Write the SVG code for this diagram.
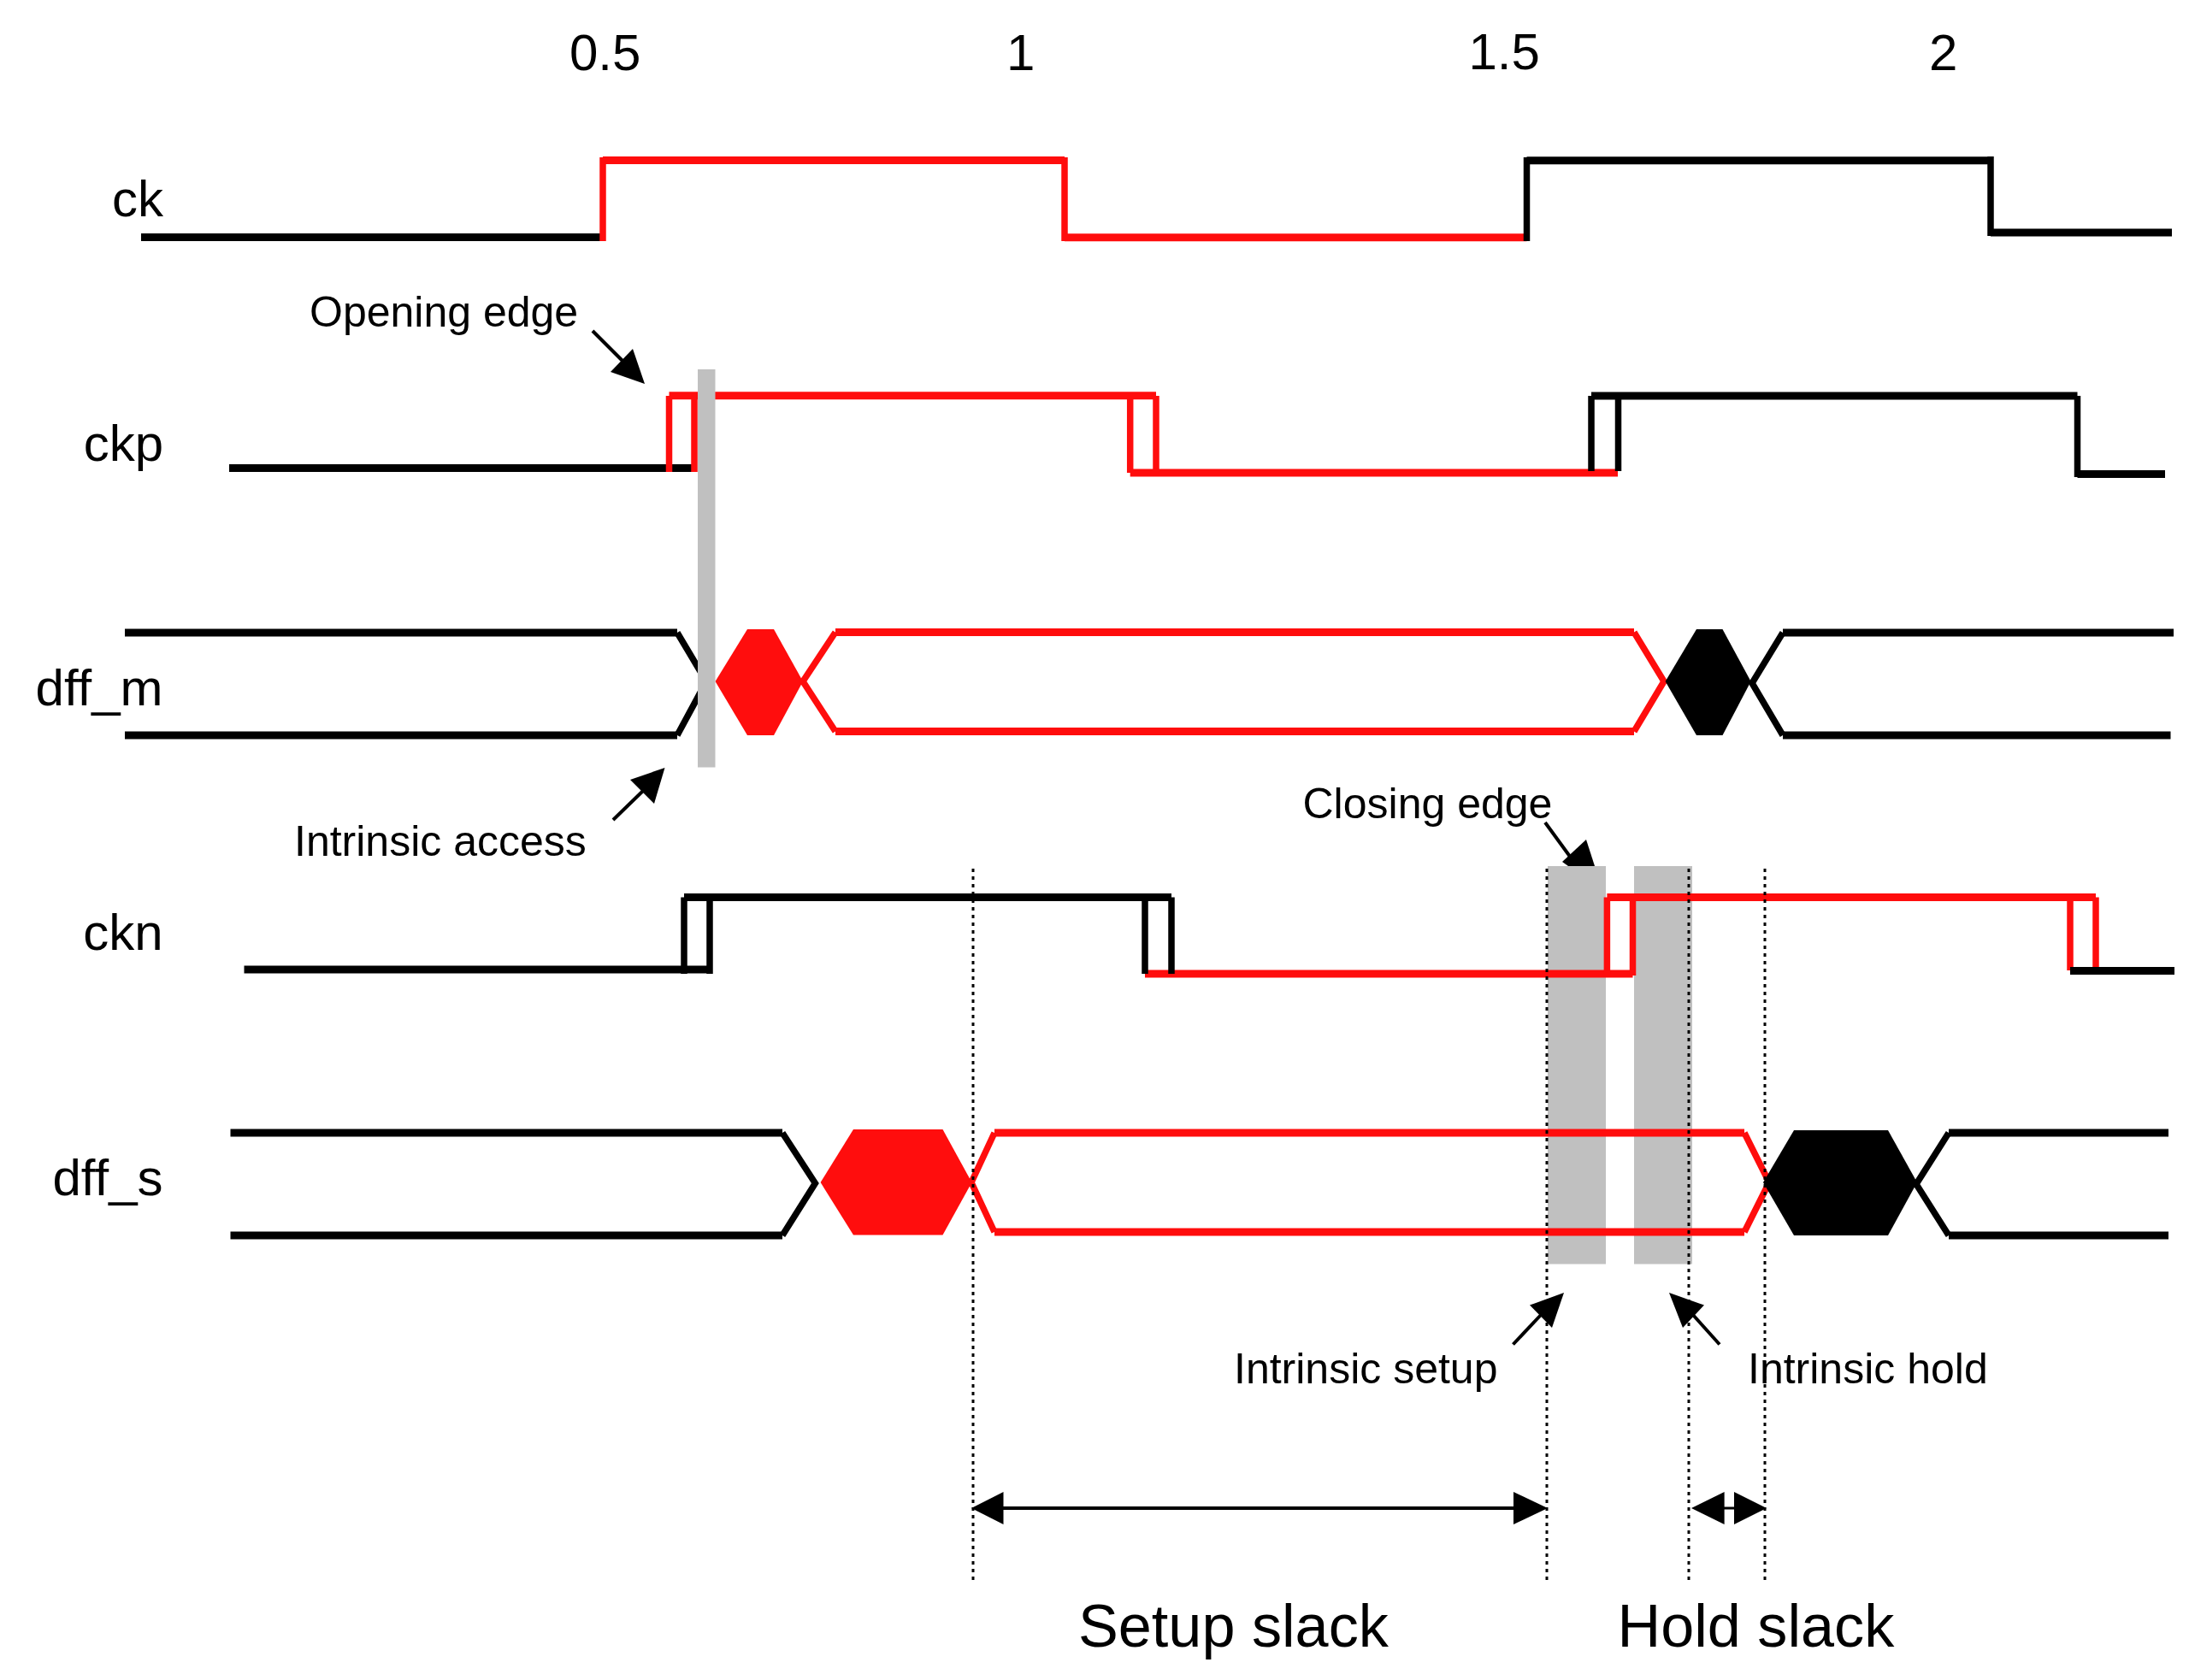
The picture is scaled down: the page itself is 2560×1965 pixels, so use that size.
<svg xmlns="http://www.w3.org/2000/svg" width="2560" height="1965" viewBox="0 0 2560 1965">
<style>
text{font-family:"Liberation Sans",Arial,sans-serif;fill:#000}
.sig{font-size:60px}.num{font-size:60px}.note{font-size:50px}.big{font-size:70.2px}
path{fill:none}
.kh{stroke:#000;stroke-width:9}.kv{stroke:#000;stroke-width:7.5}
.rh{stroke:#ff0d0d;stroke-width:9}.rv{stroke:#ff0d0d;stroke-width:7.5}
.bar{fill:#c0c0c0}.rf{fill:#ff0d0d}.kf{fill:#000}
.dot{stroke:#000;stroke-width:3;stroke-dasharray:4 5}
.shaft{stroke:#000;stroke-width:4}
</style>
<rect width="2560" height="1965" fill="#fff"/>
<g id="axis">
<text class="num" x="666" y="82">0.5</text>
<text class="num" x="1177" y="82">1</text>
<text class="num" x="1717.5" y="81">1.5</text>
<text class="num" x="2256" y="82">2</text>
</g>
<g id="ck">
<text class="sig" x="191" y="253" text-anchor="end">ck</text>
<path class="kh" d="M165,277.5H705"/>
<path class="rv" d="M705,282V184"/>
<path class="rh" d="M705,187.5H1245"/>
<path class="rv" d="M1245,184V282"/>
<path class="rh" d="M1245,277.8H1785.5"/>
<path class="kv" d="M1785.5,282V184"/>
<path class="kh" d="M1785.5,187.7H2328"/>
<path class="kv" d="M2328,183V276"/>
<path class="kh" d="M2328,272H2540"/>
</g>
<g id="ckp">
<text class="sig" x="191" y="538.5" text-anchor="end">ckp</text>
<path class="kh" d="M268,547.5H812"/>
<path class="rv" d="M782.5,552V463M812,552V463M1321.7,553V463M1352,553V463"/>
<path class="rh" d="M782.5,462.8H1352M1321.7,553H1892"/>
<path class="kv" d="M1861,551V463M1892.5,551V463M2429.5,463V558"/>
<path class="kh" d="M1861,463H2429.5M2429.5,554.4H2532"/>
</g>
<g id="dff_m">
<text class="sig" x="190.5" y="825" text-anchor="end">dff_m</text>
<path class="kh" d="M146,740H792M146,860H792"/>
<path class="kv" d="M792,740L826,797L792,860"/>
<polygon class="rf" points="836.5,797 874,736 905,736 939,797 905,860 874,860"/>
<path class="rv" d="M977,739.5L939,797L977,855.5M1911,739.5L1946,797L1911,855.5"/>
<path class="rh" d="M977,739.5H1911M977,855.5H1911"/>
<polygon class="kf" points="1947.6,797 1984,736 2014.5,736 2047.6,797 2014.5,860 1984,860"/>
<path class="kv" d="M2085,740L2049,799L2085,860"/>
<path class="kh" d="M2085,740H2542M2085,860H2538.5"/>
</g>
<g id="opening-bar"><rect class="bar" x="816" y="432" width="20.5" height="465.5"/></g>
<g id="closing-note">
<path class="shaft" d="M1807,962L1842,1010"/>
<polygon class="kf" points="1865,1013 1855,982 1827,1008 1834,1013"/>
</g>
<g id="windows">
<rect class="bar" x="1810" y="1013" width="68" height="465.5"/>
<rect class="bar" x="1911" y="1013" width="68" height="465.5"/>
</g>
<g id="ckn">
<text class="sig" x="190.5" y="1111" text-anchor="end">ckn</text>
<path class="kh" d="M285.5,1134H830"/>
<path class="rh" d="M1339,1139H1909.5"/>
<path class="kv" d="M800,1139V1049.5M830,1139V1049.5M1339,1139V1049.5M1370,1139V1049.5"/>
<path class="kh" d="M800,1049.5H1370"/>
<path class="rv" d="M1879.4,1139V1049.5M1909.5,1141V1049.5M2421,1135V1049.5M2451,1135V1049.5"/>
<path class="rh" d="M1879.4,1049.5H2451"/>
<path class="kh" d="M2421,1135.5H2543"/>
</g>
<g id="dff_s">
<text class="sig" x="190.5" y="1398" text-anchor="end">dff_s</text>
<path class="kh" d="M269.5,1325H915M269.5,1445H915"/>
<path class="kv" d="M915,1325L953.4,1384L915,1445"/>
<polygon class="rf" points="959.6,1383 998,1321 1102.5,1321 1136.5,1383 1102.5,1444.5 998,1444.5"/>
<path class="rv" d="M1163,1325L1136,1383L1163,1441M2040,1325L2069,1383L2040,1441"/>
<path class="rh" d="M1163,1325H2040M1163,1441H2040"/>
<polygon class="kf" points="2062,1383 2098,1322 2208,1322 2242,1383 2208,1445 2098,1445"/>
<path class="kv" d="M2279,1325L2241,1385L2279,1445"/>
<path class="kh" d="M2279,1325H2536M2279,1445H2536"/>
</g>
<g id="connectors">
<path class="dot" d="M1138,1016V1848M1809,1016V1848M1975,1016V1848M2064,1016V1848"/>
<path class="shaft" d="M693,387L728,422"/>
<polygon class="kf" points="754,449 740,408 714,435"/>
<path class="shaft" d="M717,959L752,925"/>
<polygon class="kf" points="777.5,898 737,912 765,940"/>
<path class="shaft" d="M1769.5,1572.5L1802,1538"/>
<polygon class="kf" points="1829,1512 1789,1526.6 1815,1553"/>
<path class="shaft" d="M2011,1572.5L1980,1538"/>
<polygon class="kf" points="1952,1512 1993,1526.6 1968,1553"/>
<path class="shaft" d="M1160,1764H1790"/>
<polygon class="kf" points="1136,1764 1173.5,1745 1173.5,1783"/>
<polygon class="kf" points="1810,1764 1770,1745 1770,1783"/>
<path class="kv" style="stroke-width:3" d="M2000,1764H2045"/>
<polygon class="kf" points="1978,1764 2016.6,1745 2016.6,1783"/>
<polygon class="kf" points="2066,1764 2028,1745 2028,1783"/>
</g>
<g id="labels">
<text class="note" x="362" y="382">Opening edge</text>
<text class="note" x="344" y="1000.5">Intrinsic access</text>
<text class="note" x="1523.5" y="957">Closing edge</text>
<text class="note" x="1443" y="1618">Intrinsic setup</text>
<text class="note" x="2044" y="1618">Intrinsic hold</text>
<text class="big" x="1261" y="1925.5">Setup slack</text>
<text class="big" x="1891.5" y="1925.5">Hold slack</text>
</g>
</svg>
